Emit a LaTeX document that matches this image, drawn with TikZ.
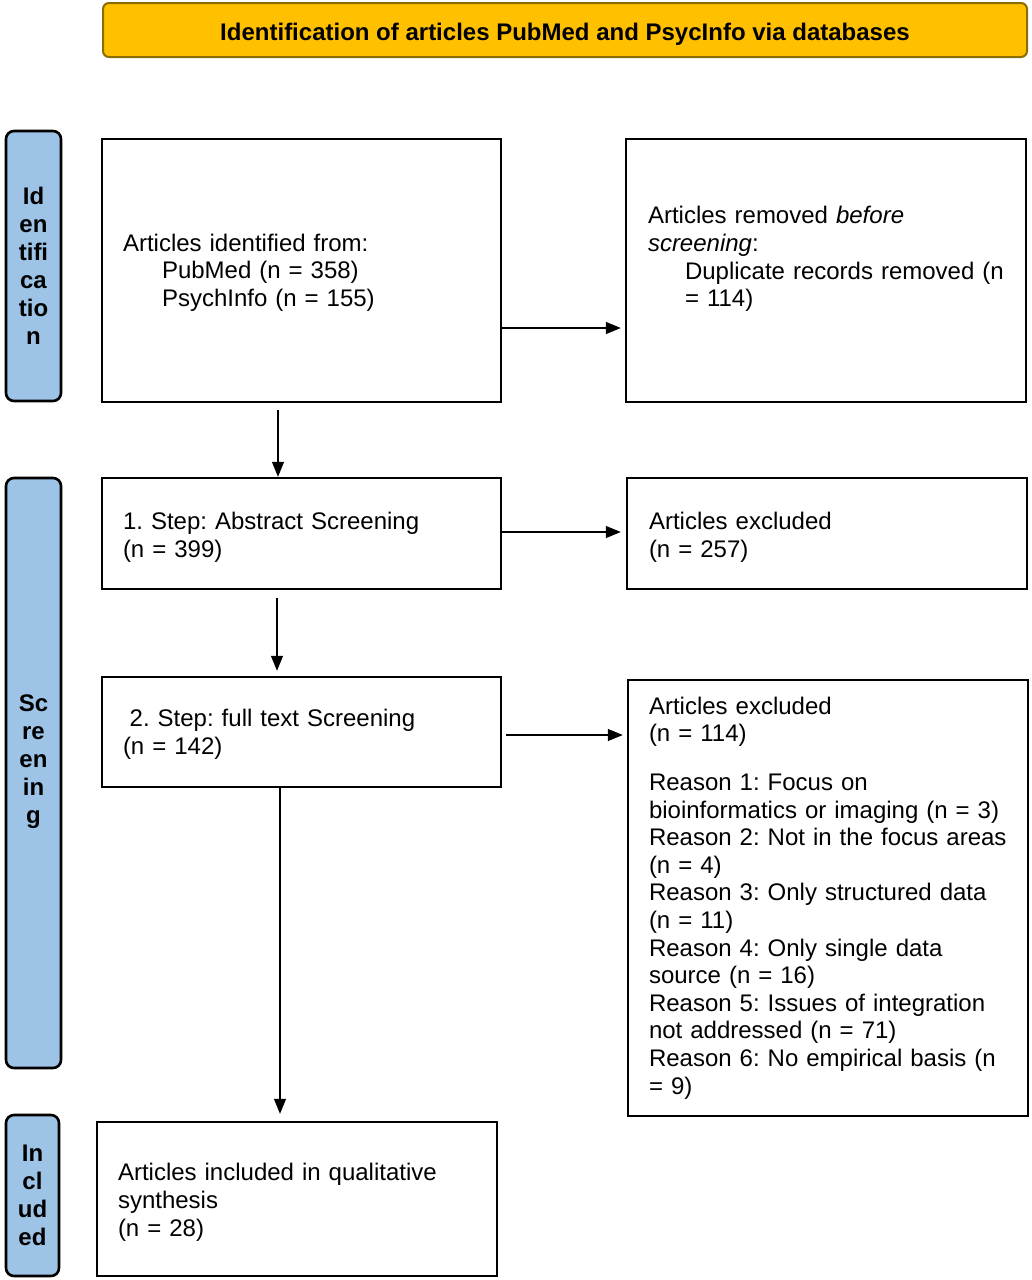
\documentclass[tikz,border=0pt]{standalone}
\usepackage{fontspec}
\setmainfont{Liberation Sans}
\usetikzlibrary{arrows.meta,positioning,calc}
\definecolor{bannerfill}{HTML}{FFC000}
\definecolor{bannerdraw}{HTML}{8A6D00}
\definecolor{barfill}{HTML}{9DC3E6}
\newcommand{\pushdown}[1]{\rule{0pt}{#1}}
\begin{document}
\frenchspacing\hyphenpenalty=10000\exhyphenpenalty=10000
\begin{tikzpicture}[x=1pt,y=-1pt,
  every node/.style={font=\fontsize{24}{27.6}\selectfont},
  phase/.style={draw=black,line width=2.6pt,fill=barfill,rounded corners=8pt,
    font=\fontsize{24}{28}\selectfont\bfseries,align=center,inner sep=0pt},
  flowbox/.style={draw=black,line width=2.4pt,align=left,inner xsep=21pt,inner ysep=0pt,
    text width=#1},
  arr/.style={line width=1.3pt,-{Triangle[length=15pt,width=12pt]}}]
\useasboundingbox (0,0) rectangle (1032,1280);
% banner
\node[draw=bannerdraw,line width=2pt,fill=bannerfill,rounded corners=6pt,
  minimum width=924pt,minimum height=54pt,font=\fontsize{24}{28}\selectfont\bfseries]
  (banner) at (565,30) {\raisebox{-4pt}[\height][\depth]{Identification of articles PubMed and PsycInfo via databases}};
% phase bars
\node[phase,minimum width=55pt,minimum height=270pt] (idbar) at (33.5,266)
  {Id\\en\\tifi\\ca\\tio\\n};
\node[phase,minimum width=55pt,minimum height=590pt] (scbar) at (33.5,773)
  {Sc\\re\\en\\in\\g\\\mbox{}};
\node[phase,minimum width=53pt,minimum height=161pt] (inbar) at (32.5,1195.5)
  {In\\cl\\ud\\ed};
% boxes
\node[flowbox=357pt,minimum width=399pt,minimum height=263pt] (box1) at (301.5,270.5)
  {\pushdown{21.5pt}Articles identified from:\\\hspace*{39pt}PubMed (n = 358)\\\hspace*{39pt}PsychInfo (n = 155)};
\node[flowbox=356pt,minimum width=400pt,minimum height=263pt,inner xsep=22pt] (removed) at (826,270.5)
  {Articles removed \textit{before}\\\textit{screening}:\\\hspace*{37pt}Duplicate records removed (n\\\hspace*{37pt}= 114)\\~};
\node[flowbox=357pt,minimum width=399pt,minimum height=111pt] (abs) at (301.5,533.5)
  {\pushdown{25pt}1. Step: Abstract Screening\\(n = 399)};
\node[flowbox=356pt,minimum width=400pt,minimum height=111pt,inner xsep=22pt] (exc1) at (827,533.5)
  {\pushdown{25pt}Articles excluded\\(n = 257)};
\node[flowbox=357pt,minimum width=399pt,minimum height=110pt] (full) at (301.5,732)
  {\pushdown{21.5pt}\hspace*{6.7pt}2. Step: full text Screening\\(n = 142)};
\node[flowbox=358pt,minimum width=400pt,minimum height=436pt] (exc2) at (828,898)
  {Articles excluded\\(n = 114)\\[21pt]
   Reason 1: Focus on\\bioinformatics or imaging (n = 3)\\
   Reason 2: Not in the focus areas\\(n = 4)\\
   Reason 3: Only structured data\\(n = 11)\\
   Reason 4: Only single data\\source (n = 16)\\
   Reason 5: Issues of integration\\not addressed (n = 71)\\
   Reason 6: No empirical basis (n\\= 9)};
\node[flowbox=358pt,minimum width=400pt,minimum height=154pt] (incl) at (297,1199)
  {\pushdown{24pt}Articles included in qualitative\\synthesis\\(n = 28)};
% connectors
\draw[arr] ([yshift=-57.5pt]box1.east) -- ([yshift=-57.5pt,xshift=-4pt]box1.east -| removed.west);
\draw[arr] ([xshift=-23.5pt,yshift=-7pt]box1.south) -- ([xshift=-23.5pt]box1.south |- abs.north);
\draw[arr] ([yshift=1.5pt]abs.east) -- ([yshift=1.5pt,xshift=-5pt]abs.east -| exc1.west);
\draw[arr] ([xshift=-24.5pt,yshift=-8pt]abs.south) -- ([xshift=-24.5pt,yshift=5pt]abs.south |- full.north);
\draw[arr] ([xshift=4pt,yshift=-3pt]full.east) -- ([yshift=-3pt,xshift=-4pt]full.east -| exc2.west);
\draw[arr] ([xshift=-21.5pt]full.south) -- ([xshift=-21.5pt,yshift=7pt]full.south |- incl.north);
\end{tikzpicture}
\end{document}
